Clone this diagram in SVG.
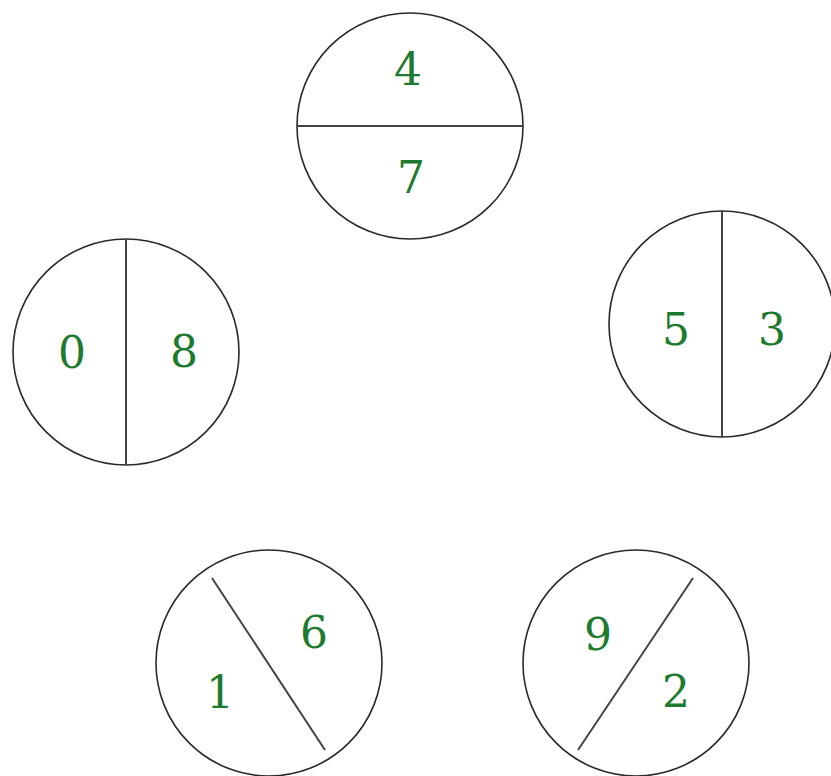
<svg xmlns="http://www.w3.org/2000/svg" width="831" height="776" viewBox="0 0 831 776">
<style>
.c{fill:none;stroke:#2a2a2a;stroke-width:1.6}
.d{stroke:#444;stroke-width:2}
text{font-family:"DejaVu Serif","Liberation Serif",serif;font-size:44px;fill:#1d7a2e;text-anchor:middle}
</style>
<rect width="831" height="776" fill="#fff"/>
<g id="node-top">
<circle class="c" cx="410" cy="126" r="113"/>
<line class="d" x1="297" y1="126" x2="523" y2="126"/>
<text x="408" y="85">4</text>
<text x="411" y="193">7</text>
</g>
<g id="node-left">
<circle class="c" cx="126" cy="352" r="113"/>
<line class="d" x1="126" y1="239" x2="126" y2="465"/>
<text x="72" y="368">0</text>
<text x="184" y="367">8</text>
</g>
<g id="node-right">
<circle class="c" cx="722" cy="324" r="113"/>
<line class="d" x1="722" y1="211" x2="722" y2="437"/>
<text x="676" y="345">5</text>
<text x="772" y="345">3</text>
</g>
<g id="node-bottom-left">
<circle class="c" cx="269" cy="663" r="113"/>
<line class="d" x1="212" y1="578" x2="325" y2="750"/>
<text x="314" y="648">6</text>
<text x="220" y="708">1</text>
</g>
<g id="node-bottom-right">
<circle class="c" cx="636" cy="663" r="113"/>
<line class="d" x1="693" y1="578" x2="578" y2="750"/>
<text x="598" y="650">9</text>
<text x="676" y="707">2</text>
</g>
<g id="connectors"></g>
</svg>
